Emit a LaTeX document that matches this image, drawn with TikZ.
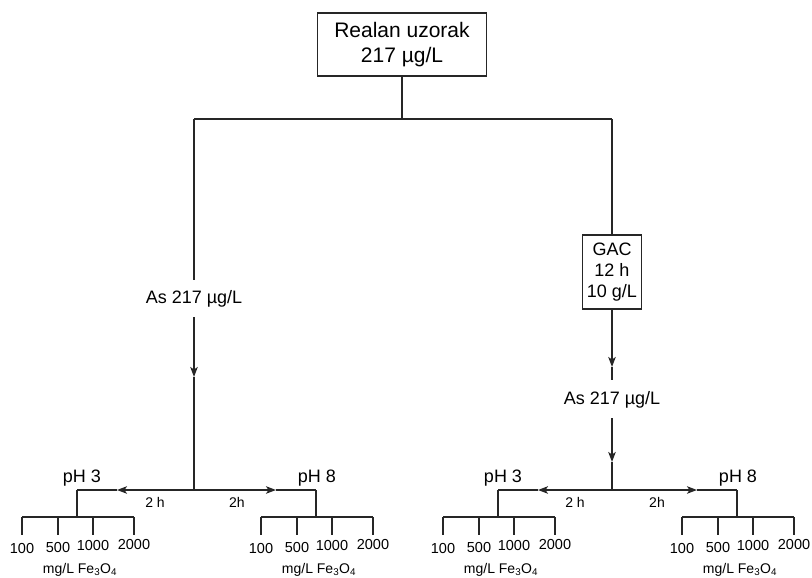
\documentclass[tikz,border=0pt]{standalone}
\usepackage{fontspec}
\setmainfont{Liberation Sans}
\usetikzlibrary{arrows.meta}
\tikzset{
  ln/.style={line width=1.6pt, draw=black!85},
  arr/.style={ln, -{Stealth[length=10pt,width=7.5pt,inset=2.5pt]}},
  box/.style={draw=black!85, line width=1.6pt, align=center, inner sep=0pt},
  big/.style={font=\fontsize{18}{25}\selectfont, inner sep=0pt},
  topf/.style={font=\fontsize{21}{25}\selectfont},
  ph/.style={font=\fontsize{18}{19}\selectfont, inner sep=0pt},
  hr/.style={font=\fontsize{14}{16}\selectfont, inner sep=0pt},
  num/.style={font=\fontsize{14.5}{15}\selectfont, inner sep=0pt},
  unit/.style={font=\fontsize{14}{15}\selectfont, inner sep=0pt},
}
\newcommand\phtree[4]{%
  \coordinate (#1) at (#2,490);
  \coordinate (#1b) at (#2,517);
  \node[ph] (#1lab) at ([xshift=#4pt]#1 |- 0,478) {#3};
  \draw[ln] (#1) -- (#1b);
  \coordinate (#1l) at ([xshift=-55pt]#1b);
  \coordinate (#1r) at ([xshift=57pt]#1b);
  \draw[ln] (#1l) -- (#1r);
  \foreach \d/\n/\dy in {-55/100/549, -19/500/548, 16/1000/546, 57/2000/545} {
    \coordinate (#1t\n) at ([xshift=\d pt]#1b);
    \coordinate (#1e\n) at ([xshift=\d pt]#1 |- 0,535);
    \draw[ln] (#1t\n) -- (#1e\n);
    \node[num] (#1n\n) at ([xshift=\d pt]#1 |- 0,\dy) {\n};
  }
  \node[unit, anchor=base] (#1u) at ([xshift=3pt]#1 |- 0,573) {mg/L Fe\textsubscript{3}O\textsubscript{4}};
}
\begin{document}
\begin{tikzpicture}[x=1pt,y=-1pt]
\useasboundingbox (0,0) rectangle (812,578);

% top box
\node[box, topf, minimum width=169pt, minimum height=63pt] (top) at (402,44.5)
  {Realan uzorak\\217 µg/L};
\coordinate (split) at (402,119);
\coordinate (cL) at (194,119);
\coordinate (cR) at (612,119);
\draw[ln] (top.south) -- (split);
\draw[ln] (cL) -- (cR);

% left branch
\node[big] (asL) at (194,299) {As 217 µg/L};
\coordinate (asLtop) at (194,280);
\draw[ln] (cL) -- (asLtop);
\coordinate (asLbot) at (194,317);
\coordinate (tipL) at (194,377);
\coordinate (jL) at (194,490);
\draw[arr] (asLbot) -- (tipL);
\draw[ln] (tipL) -- (jL);

% right branch
\node[box, font=\fontsize{18}{21}\selectfont, minimum width=59pt, minimum height=74pt] (gac) at (612,272)
  {GAC\\12 h\\10 g/L};
\draw[ln] (cR) -- (gac.north);
\coordinate (tipR1) at (612,367);
\coordinate (gacbot) at (612,380);
\draw[arr] (gac.south) -- (tipR1);
\draw[ln] (tipR1) -- (gacbot);
\node[big] (asR) at (612,400) {As 217 µg/L};
\coordinate (asRbot) at (612,418);
\coordinate (tipR2) at (612,462);
\coordinate (jR) at (612,490);
\draw[arr] (asRbot) -- (tipR2);
\draw[ln] (tipR2) -- (jR);

% pH trees
\phtree{LL}{77}{pH 3}{5}
\phtree{LR}{316}{pH 8}{1}
\phtree{RL}{498}{pH 3}{5}
\phtree{RR}{737}{pH 8}{1}

% horizontal arrows
\coordinate (tLL) at (117,490);
\coordinate (tLR) at (276,490);
\coordinate (tRL) at (538,490);
\coordinate (tRR) at (697,490);
\draw[arr] (jL) -- (tLL); \draw[ln] (tLL) -- (LL);
\draw[arr] (jL) -- (tLR); \draw[ln] (tLR) -- (LR);
\draw[arr] (jR) -- (tRL); \draw[ln] (tRL) -- (RL);
\draw[arr] (jR) -- (tRR); \draw[ln] (tRR) -- (RR);

\node[hr] (hLL) at (155,502) {2 h};
\node[hr] (hLR) at (237,502) {2h};
\node[hr] (hRL) at (575,502) {2 h};
\node[hr] (hRR) at (657,502) {2h};
\end{tikzpicture}
\end{document}
